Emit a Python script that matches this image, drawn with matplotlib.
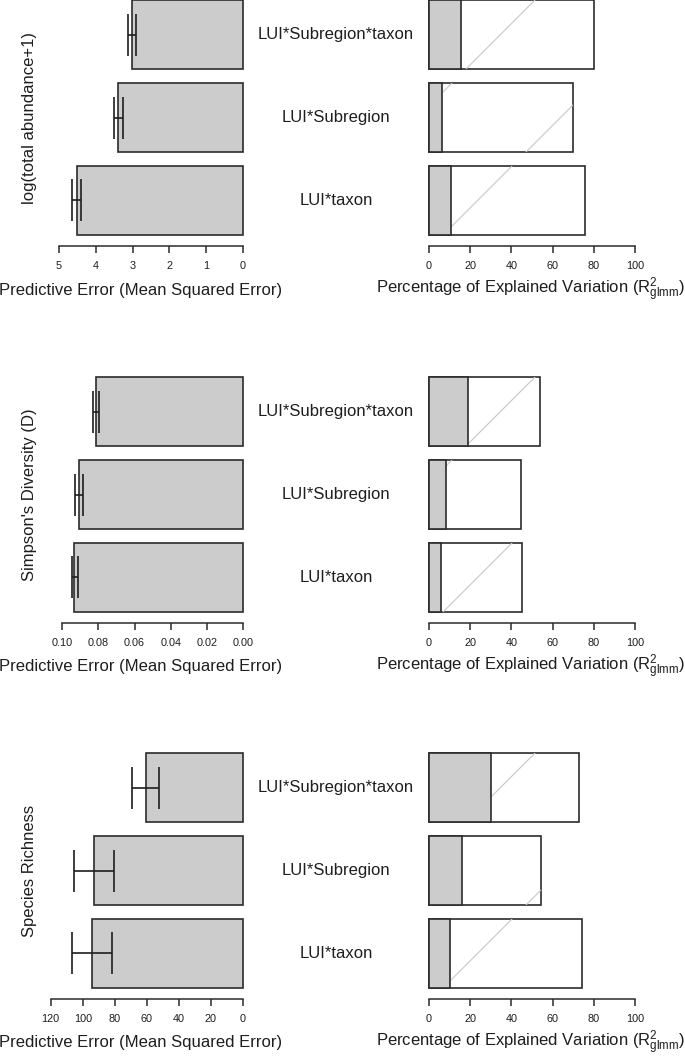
import matplotlib
matplotlib.use("Agg")
import matplotlib.pyplot as plt
from matplotlib.lines import Line2D
from matplotlib.transforms import IdentityTransform

plt.rcParams["font.family"] = ["Liberation Sans", "DejaVu Sans"]
plt.rcParams["mathtext.fontset"] = "custom"
plt.rcParams["mathtext.rm"] = "Liberation Sans"

TEXT = "#1e1e1e"
EDGE = "#2b2b2b"
GRAY = "#cccccc"
HATCH = "#c8c8c8"

# data, each list ordered top bar -> bottom bar
models = ["LUI*Subregion*taxon", "LUI*Subregion", "LUI*taxon"]
responses = ["log(total abundance+1)", "Simpson's Diversity (D)", "Species Richness"]

mse_abund = [3.02, 3.40, 4.51]
mse_abund_lo = [2.91, 3.27, 4.40]
mse_abund_hi = [3.13, 3.50, 4.65]

mse_simpson = [0.0812, 0.0910, 0.0934]
mse_simpson_lo = [0.0795, 0.0888, 0.0915]
mse_simpson_hi = [0.0830, 0.0928, 0.0947]

mse_rich = [60.8, 93.0, 94.1]
mse_rich_lo = [52.3, 80.5, 82.0]
mse_rich_hi = [69.5, 105.5, 106.5]

r2_marg_abund = [15.5, 6.5, 10.5]
r2_cond_abund = [80.0, 70.0, 75.7]
r2_marg_simpson = [18.8, 8.4, 5.8]
r2_cond_simpson = [53.9, 44.5, 45.3]
r2_marg_rich = [29.9, 15.9, 10.2]
r2_cond_rich = [73.0, 54.2, 74.1]

left_ticks = [[0, 1, 2, 3, 4, 5],
              [0, 0.02, 0.04, 0.06, 0.08, 0.10],
              [0, 20, 40, 60, 80, 100, 120]]
left_fmt = ["{:g}", "{:.2f}", "{:g}"]
right_ticks = [0, 20, 40, 60, 80, 100]

panels = [
    (mse_abund, mse_abund_lo, mse_abund_hi, r2_marg_abund, r2_cond_abund),
    (mse_simpson, mse_simpson_lo, mse_simpson_hi, r2_marg_simpson, r2_cond_simpson),
    (mse_rich, mse_rich_lo, mse_rich_hi, r2_marg_rich, r2_cond_rich),
]

W, H = 685, 1061
fig = plt.figure(figsize=(W / 100, H / 100), dpi=100)

ypos = [3.1, 1.9, 0.7]
bar_h = 1.0
px_unit = 69.0  # pixels per bar-height unit
panel_top = [0, 377, 753]


def px_axes(x0, x1, top, bottom):
    return fig.add_axes([x0 / W, (H - bottom) / H, (x1 - x0) / W, (bottom - top) / H])


def style_axis(ax, ticks, labels, lo, hi):
    for s in ["top", "right", "left"]:
        ax.spines[s].set_visible(False)
    ax.spines["bottom"].set_bounds(lo, hi)
    ax.spines["bottom"].set_linewidth(1.1)
    ax.spines["bottom"].set_color(EDGE)
    ax.set_yticks([])
    ax.set_xticks(ticks)
    ax.set_xticklabels(labels)
    ax.tick_params(axis="x", length=5, width=1.1, color=EDGE, labelsize=7.8,
                   labelcolor=TEXT, pad=6)


for i, (mse, lo, hi, marg, cond) in enumerate(panels):
    o = panel_top[i]
    top_px = o - 11
    bot_px = o + 246
    ylim = (0.2 - 11 / px_unit, 3.6 + 11 / px_unit)

    # left: predictive error, reversed axis
    axl = px_axes(40, 250, top_px, bot_px)
    tmax = left_ticks[i][-1]
    zero_px, max_px = 243.0, [59.0, 62.3, 50.7][i]
    ppu = (zero_px - max_px) / tmax
    axl.set_xlim((zero_px - 40) / ppu, (zero_px - 250) / ppu)
    axl.set_ylim(*ylim)
    axl.barh(ypos, mse, height=bar_h, color=GRAY, edgecolor=EDGE, linewidth=1.2)
    centers = [(a + b) / 2 for a, b in zip(lo, hi)]
    half = [(b - a) / 2 for a, b in zip(lo, hi)]
    axl.errorbar(centers, ypos, xerr=half, fmt="none", ecolor=TEXT,
                 elinewidth=1.2, capsize=14.8, capthick=1.2)
    style_axis(axl, left_ticks[i], [left_fmt[i].format(t) for t in left_ticks[i]], 0, tmax)

    # right: explained variation
    axr = px_axes(415, 650, top_px, bot_px)
    rppu = (635 - 429) / 100
    axr.set_xlim(-(429 - 415) / rppu, 100 + (650 - 635) / rppu)
    axr.set_ylim(*ylim)
    whites = axr.barh(ypos, cond, height=bar_h, color="white", edgecolor=EDGE,
                      linewidth=1.2, zorder=2)
    fig.canvas.draw()
    X0, Y0 = axr.transData.transform((0, ypos[0] + bar_h / 2))
    for rect in whites:
        for k in range(-2, 8):
            c = 106 + 143 * k
            xs = [X0 - 400, X0 + 600]
            ys = [x - X0 + Y0 - c for x in xs]
            ln = Line2D(xs, ys, transform=IdentityTransform(), color=HATCH,
                        linewidth=0.8, zorder=2.5)
            axr.add_artist(ln)
            ln.set_clip_path(rect)
    axr.barh(ypos, marg, height=bar_h, color=GRAY, edgecolor=EDGE,
             linewidth=1.2, zorder=3)
    style_axis(axr, right_ticks, [str(t) for t in right_ticks], 0, 100)

    # labels
    for name, yc in zip(models, [34.5, 117.5, 200.5]):
        fig.text(336 / W, 1 - (o + yc) / H, name, ha="center", va="center",
                 fontsize=12, color=TEXT)
    fig.text(30 / W, 1 - (o + 118) / H, responses[i], rotation=90, ha="center",
             va="center", fontsize=12, color=TEXT)
    fig.text(141 / W, 1 - (o + 290) / H, "Predictive Error (Mean Squared Error)",
             ha="center", va="center", fontsize=12, color=TEXT)
    fig.text(531 / W, 1 - (o + 290) / H,
             r"Percentage of Explained Variation ($\mathregular{R^2_{glmm}}$)",
             ha="center", va="center", fontsize=12, color=TEXT)

fig.savefig("out.png", dpi=100, facecolor="white")
